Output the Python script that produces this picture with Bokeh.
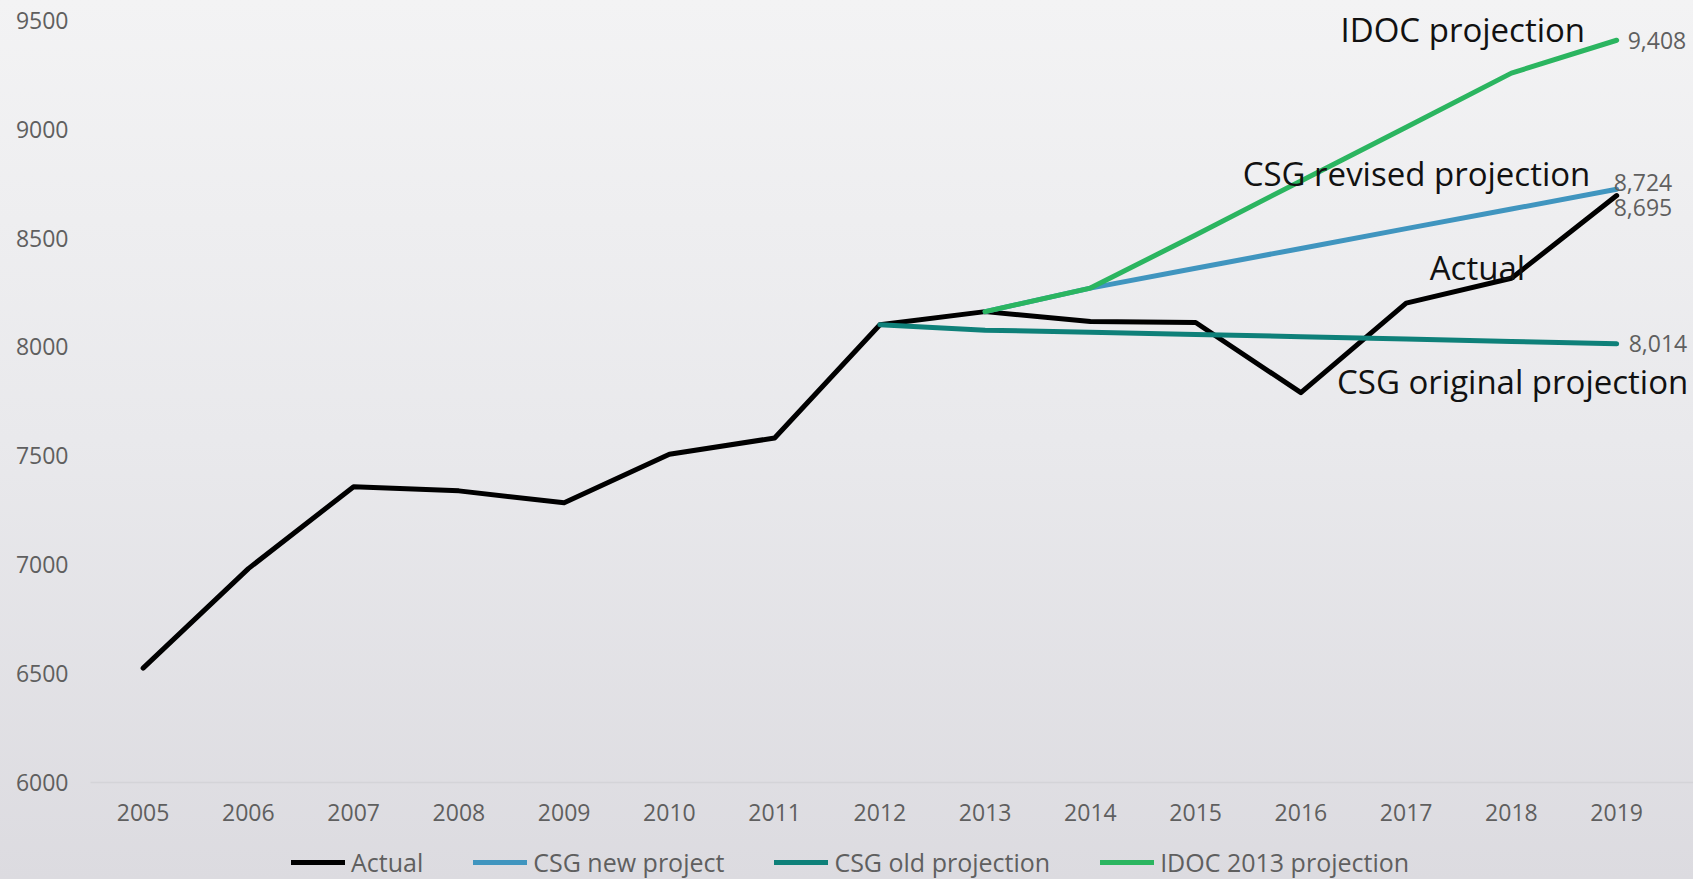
from bokeh.plotting import figure
from bokeh.models import Legend, LegendItem, Label, FixedTicker, Range1d
from bokeh.layouts import column
from bokeh.embed import file_html
from bokeh.resources import INLINE

# ---- data ----
years = list(range(2005, 2020))
actual = [6525, 6982, 7358, 7339, 7284, 7507, 7582, 8102, 8162, 8117, 8112, 7790, 8201, 8315, 8695]
csg_new_years = [2013, 2014, 2015, 2016, 2017, 2018, 2019]
csg_new = [8162, 8270, 8361, 8452, 8543, 8633, 8724]
csg_old_years = [2012, 2013, 2014, 2015, 2016, 2017, 2018, 2019]
csg_old = [8102, 8077, 8067, 8057, 8047, 8036, 8025, 8014]
idoc_years = [2013, 2014, 2015, 2016, 2017, 2018, 2019]
idoc = [8162, 8270, 8514, 8762, 9009, 9257, 9408]
y_ticks = [6000, 6500, 7000, 7500, 8000, 8500, 9000, 9500]
legend_names = ["Actual", "CSG new project", "CSG old projection", "IDOC 2013 projection"]
series_colors = ["#000000", "#4095bf", "#0e8079", "#2bb560"]

FONT = "Open Sans"
GRADIENT = "linear-gradient(to bottom, #f3f3f4 0%, #e9e9ec 50%, #dcdbe0 100%)"
LW = 5
line_style = dict(line_width=LW, line_join="round", line_cap="round")

series = [(years, actual), (csg_new_years, csg_new), (csg_old_years, csg_old), (idoc_years, idoc)]

p = figure(width=1693, height=830, output_backend="svg", toolbar_location=None,
           x_range=Range1d(2004.5, 2019.73), y_range=Range1d(6000, 9590.5),
           min_border_left=90, min_border_right=0, min_border_top=0, min_border_bottom=48)
p.background_fill_alpha = 0
p.border_fill_alpha = 0
p.outline_line_color = None
p.grid.visible = False

# axes
p.xaxis.ticker = FixedTicker(ticks=years)
p.yaxis.ticker = FixedTicker(ticks=y_ticks)
for ax in (p.xaxis[0], p.yaxis[0]):
    ax.major_tick_line_color = None
    ax.minor_tick_line_color = None
    ax.major_label_text_font = FONT
    ax.major_label_text_font_size = "23px"
    ax.major_label_text_color = "#5f5f5f"
p.xaxis.axis_line_color = "#d4d4d8"
p.xaxis.axis_line_width = 1.5
p.yaxis.axis_line_color = None
p.xaxis.major_label_standoff = 15
p.yaxis.major_label_standoff = 16

for (xs, ys), c in zip(series, series_colors):
    p.line(xs, ys, line_color=c, **line_style)

# big series annotations
big = dict(text_font=FONT, text_font_size="33px", text_color="#111111",
           text_align="right", text_baseline="middle")
p.add_layout(Label(x=2018.70, y=9456, text="IDOC projection", **big))
p.add_layout(Label(x=2018.75, y=8794, text="CSG revised projection", **big))
p.add_layout(Label(x=2018.13, y=8363, text="Actual", **big))
p.add_layout(Label(x=2019.68, y=7839, text="CSG original projection", **big))

# end value labels
val = dict(text_font=FONT, text_font_size="23px", text_color="#5f5f5f",
           text_align="left", text_baseline="middle")
p.add_layout(Label(x=idoc_years[-1], y=idoc[-1], x_offset=11, y_offset=0, text=f"{idoc[-1]:,}", **val))
p.add_layout(Label(x=csg_new_years[-1], y=csg_new[-1], x_offset=-3, y_offset=7, text=f"{csg_new[-1]:,}", **val))
p.add_layout(Label(x=years[-1], y=actual[-1], x_offset=-3, y_offset=-12, text=f"{actual[-1]:,}", **val))
p.add_layout(Label(x=csg_old_years[-1], y=csg_old[-1], x_offset=12, y_offset=0, text=f"{csg_old[-1]:,}", **val))

# legend strip (separate small figure; its lines fall outside its range, only the legend shows)
lf = figure(width=1693, height=49, output_backend="svg", toolbar_location=None,
            x_range=Range1d(0, 1), y_range=Range1d(0, 1),
            x_axis_location=None, y_axis_location=None,
            min_border_left=0, min_border_right=0, min_border_top=0, min_border_bottom=0)
lf.grid.visible = False
lf.background_fill_alpha = 0
lf.border_fill_alpha = 0
lf.outline_line_color = None
leg_renderers = [lf.line(xs, ys, line_color=c, **line_style) for (xs, ys), c in zip(series, series_colors)]
legend = Legend(items=[LegendItem(label=n, renderers=[r]) for n, r in zip(legend_names, leg_renderers)],
                orientation="horizontal", location=(201, 0),
                glyph_width=54, glyph_height=22, label_height=22, label_standoff=6, spacing=50,
                padding=0, margin=0,
                label_text_font=FONT, label_text_font_size="25px", label_text_color="#5f5f5f",
                background_fill_alpha=0, border_line_color=None)
lf.add_layout(legend, "center")

layout = column(p, lf, spacing=0, styles={"background": GRADIENT})
open("out.html", "w").write(file_html(layout, INLINE))
